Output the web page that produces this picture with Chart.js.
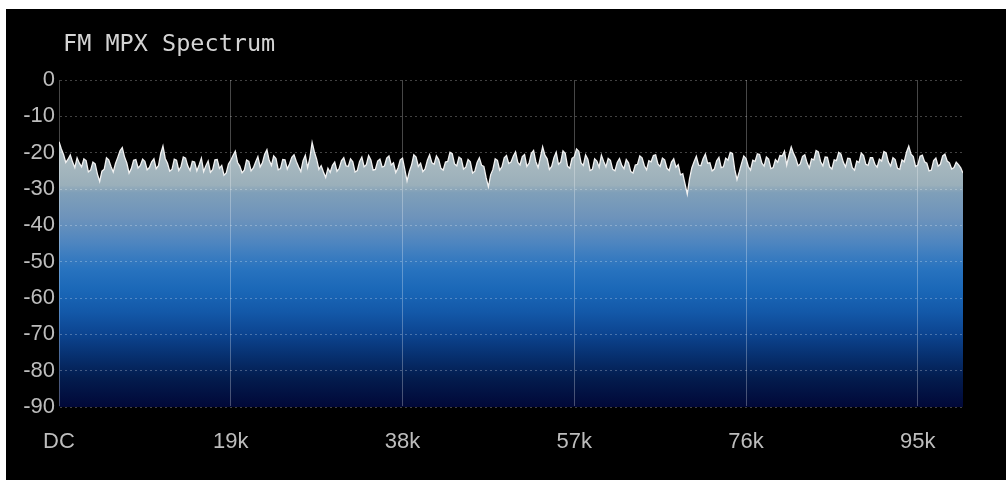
<!DOCTYPE html>
<html>
<head>
<meta charset="utf-8">
<title>FM MPX Spectrum</title>
<script src="https://cdn.jsdelivr.net/npm/chart.js@4.4.1/dist/chart.umd.min.js"></script>
<style>
    html, body {
        margin: 0;
        padding: 0;
        background: #fff;
        overflow: hidden;
    }
    canvas {
        display: block;
    }
    .edge {
        position: absolute;
        background: #fff;
        z-index: 2;
    }
    .edge.top { left: 0; top: 0; width: 1006px; height: 9px; }
    .edge.left { left: 0; top: 0; width: 6px; height: 480px; }
</style>
</head>
<body>
<canvas id="mpxChart" width="1006" height="480"></canvas>
<div class="edge top"></div>
<div class="edge left"></div>
<script>
// Spectrum bins, 0.25 kHz apart, level in dB
const binStepKHz = 0.25;
const levels = [
    // 0 - 10k
    -17.0, -18.9, -20.5, -22.7, -21.8, -20.6, -22.6, -24.1, -21.4, -22.9,
    -23.9, -21.7, -22.2, -25.3, -24.8, -22.6, -23.1, -25.9, -27.9, -25.1,
    -24.6, -21.4, -22.0, -23.8, -25.3, -23.0, -21.3, -19.5, -18.6, -21.2,
    -22.8, -25.6, -24.4, -22.1, -21.9, -24.2, -23.5, -21.8, -22.4, -24.7,
    // 10 - 20k
    -24.1, -22.5, -21.7, -24.4, -23.6, -20.3, -18.2, -21.6, -22.9, -25.1,
    -24.6, -21.8, -22.1, -24.9, -23.8, -21.2, -21.5, -23.7, -24.9, -22.4,
    -22.6, -25.0, -23.4, -21.5, -25.2, -23.6, -22.3, -25.4, -24.7, -22.0,
    -21.9, -24.3, -23.5, -26.2, -25.6, -23.1, -22.1, -20.8, -19.6, -22.7,
    // 20 - 30k
    -23.7, -25.5, -24.8, -22.0, -22.4, -25.0, -24.2, -22.6, -21.1, -23.9,
    -22.8, -20.4, -19.2, -22.1, -23.5, -20.9, -21.6, -24.7, -24.4, -21.9,
    -22.0, -24.5, -23.1, -21.3, -20.6, -22.4, -23.9, -25.2, -22.2, -20.7,
    -24.1, -21.5, -17.2, -19.8, -21.8, -24.6, -23.6, -25.3, -26.8, -24.3,
    // 30 - 40k
    -25.4, -23.5, -22.6, -25.1, -24.3, -22.2, -21.4, -23.6, -23.8, -21.7,
    -22.5, -25.3, -24.9, -22.4, -21.2, -23.9, -23.3, -20.8, -22.0, -24.8,
    -24.6, -22.3, -21.8, -24.0, -23.7, -21.5, -20.9, -23.4, -22.8, -25.5,
    -24.2, -22.0, -21.5, -24.6, -27.8, -25.2, -23.4, -20.6, -21.2, -23.8,
    // 40 - 50k
    -22.9, -25.2, -24.5, -22.1, -20.6, -22.8, -23.2, -20.9, -21.9, -24.3,
    -24.8, -22.6, -22.4, -19.9, -20.3, -23.1, -23.6, -21.2, -21.7, -24.5,
    -24.0, -21.9, -22.5, -25.6, -25.1, -22.7, -21.4, -23.5, -23.8, -26.9,
    -29.4, -26.1, -24.6, -21.7, -22.1, -24.8, -23.9, -21.4, -20.8, -23.0,
    // 50 - 60k
    -22.6, -21.0, -19.8, -22.7, -23.4, -21.1, -20.5, -23.8, -22.9, -20.2,
    -19.4, -22.5, -24.1, -21.3, -18.4, -20.7, -21.7, -24.6, -23.8, -21.4,
    -19.9, -23.2, -22.6, -19.5, -20.2, -23.7, -24.3, -21.6, -21.1, -19.0,
    -19.6, -22.8, -23.5, -20.6, -21.8, -24.9, -24.6, -21.7, -22.3, -24.0,
    // 60 - 70k
    -20.7, -22.4, -23.9, -21.6, -22.1, -24.6, -25.0, -22.7, -21.6, -23.5,
    -24.4, -21.9, -22.8, -25.2, -25.6, -23.4, -23.2, -20.9, -21.4, -23.6,
    -24.7, -22.2, -22.5, -20.8, -20.6, -23.1, -23.8, -21.5, -22.0, -24.3,
    -24.9, -22.6, -21.7, -24.0, -23.3, -26.1, -25.8, -28.6, -31.4, -27.2,
    // 70 - 80k
    -24.2, -22.5, -21.0, -23.4, -23.6, -21.7, -20.4, -22.9, -22.8, -25.0,
    -24.5, -22.2, -21.3, -24.1, -23.9, -21.5, -22.1, -19.9, -20.2, -24.6,
    -27.4, -25.3, -23.0, -20.9, -21.6, -23.8, -24.8, -22.1, -22.4, -20.3,
    -20.5, -22.9, -23.7, -21.2, -21.8, -24.4, -24.1, -21.9, -22.6, -20.8,
    // 80 - 90k
    -20.9, -19.6, -23.4, -20.7, -18.4, -20.2, -21.5, -23.6, -23.1, -21.0,
    -20.6, -22.8, -24.2, -21.7, -22.0, -19.4, -19.8, -22.5, -23.6, -21.2,
    -21.3, -23.9, -24.5, -22.0, -22.2, -19.9, -20.4, -22.6, -23.9, -21.5,
    -21.6, -24.1, -24.8, -22.3, -22.7, -20.1, -20.8, -23.2, -23.5, -21.4,
    // 90 - 100k
    -21.4, -23.2, -24.0, -21.8, -22.3, -19.7, -20.1, -22.6, -23.7, -21.4,
    -21.9, -24.3, -24.6, -22.0, -22.5, -19.9, -18.2, -20.4, -21.1, -23.8,
    -23.4, -21.0, -20.7, -22.5, -22.9, -25.0, -24.8, -22.2, -21.5, -23.7,
    -23.2, -20.9, -20.4, -22.3, -22.8, -24.5, -24.1, -22.6, -23.3, -24.2,
    -25.6
];

// Axis setup
const freqTicks = [0, 19, 38, 57, 76, 95];
const freqLabels = ['DC', '19k', '38k', '57k', '76k', '95k'];
const dbTicks = [0, -10, -20, -30, -40, -50, -60, -70, -80, -90];

// Fill colours by level (dB -> colour)
const fillStops = [
    [0, '#c4cfd2'],
    [-15, '#b8c5c8'],
    [-22, '#a9b9bf'],
    [-29, '#9aafba'],
    [-31, '#7f9fb9'],
    [-38, '#6d93bb'],
    [-45, '#4d85c0'],
    [-52, '#2873bf'],
    [-58, '#1a67b7'],
    [-64, '#1358a8'],
    [-70, '#0c4490'],
    [-76, '#07306f'],
    [-82, '#031c4e'],
    [-90, '#010838']
];

const points = levels.map((v, i) => ({ x: i * binStepKHz, y: v }));

const labelFont = { family: '"Liberation Sans Narrow", "Arial Narrow", Arial, sans-serif', size: 22 };

function spectrumFill(context) {
    const chart = context.chart;
    if (!chart.chartArea) return '#1a67b7';
    const y = chart.scales.y;
    const top = y.getPixelForValue(0);
    const bottom = y.getPixelForValue(-90);
    const grad = chart.ctx.createLinearGradient(0, top, 0, bottom);
    fillStops.forEach(([db, color]) => {
        grad.addColorStop((y.getPixelForValue(db) - top) / (bottom - top), color);
    });
    return grad;
}

// Black panel behind the plot
const panelPlugin = {
    id: 'panel',
    beforeDraw(chart) {
        const ctx = chart.ctx;
        ctx.save();
        ctx.fillStyle = '#000000';
        ctx.fillRect(0, 0, chart.width, chart.height);
        ctx.restore();
    }
};

// Heading text in the top-left corner
const headingPlugin = {
    id: 'heading',
    afterDraw(chart) {
        const ctx = chart.ctx;
        ctx.save();
        ctx.font = '23.5px "DejaVu Sans Mono", monospace';
        ctx.fillStyle = '#d4d4d4';
        ctx.textBaseline = 'middle';
        ctx.fillText('FM MPX Spectrum', chart.chartArea.left + 4, 45);
        ctx.restore();
    }
};

const ctx = document.getElementById('mpxChart').getContext('2d');

new Chart(ctx, {
    type: 'line',
    data: {
        datasets: [{
            data: points,
            borderColor: '#f2f2f2',
            borderWidth: 1.3,
            pointRadius: 0,
            tension: 0,
            fill: 'start',
            backgroundColor: spectrumFill
        }]
    },
    options: {
        responsive: false,
        animation: false,
        events: [],
        layout: {
            padding: { top: 80, right: 43, left: 6, bottom: 0 }
        },
        scales: {
            x: {
                type: 'linear',
                min: 0,
                max: 100,
                afterBuildTicks: scale => {
                    scale.ticks = freqTicks.map(v => ({ value: v }));
                },
                afterFit: scale => { scale.height = 73; },
                ticks: {
                    color: '#bdbdbd',
                    font: labelFont,
                    padding: 22,
                    maxRotation: 0,
                    autoSkip: false,
                    callback: value => freqLabels[freqTicks.indexOf(value)]
                },
                grid: {
                    color: 'rgba(255, 255, 255, 0.28)',
                    lineWidth: 1,
                    drawTicks: false,
                    z: 1
                },
                border: {
                    color: '#8c8ca4',
                    width: 3
                }
            },
            y: {
                min: -90,
                max: 0,
                afterBuildTicks: scale => {
                    scale.ticks = dbTicks.map(v => ({ value: v }));
                },
                afterFit: scale => { scale.width = 53; },
                ticks: {
                    color: '#bdbdbd',
                    font: labelFont,
                    padding: 4,
                    autoSkip: false,
                    callback: value => String(value)
                },
                grid: {
                    color: 'rgba(255, 255, 255, 0.26)',
                    lineWidth: 1,
                    drawTicks: false,
                    z: 1
                },
                border: {
                    color: '#a0a0b0',
                    width: 2,
                    dash: [2, 3]
                }
            }
        },
        plugins: {
            legend: { display: false },
            title: { display: false },
            tooltip: { enabled: false }
        }
    },
    plugins: [panelPlugin, headingPlugin]
});
</script>
</body>
</html>
